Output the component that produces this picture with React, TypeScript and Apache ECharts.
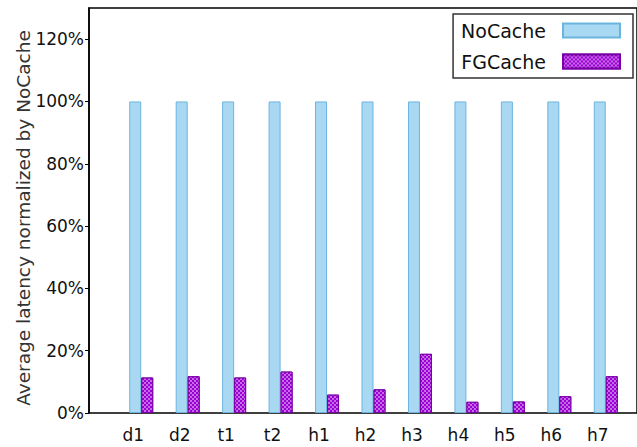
import React, { useEffect, useRef } from "react";
import * as echarts from "echarts";

const categories = ["d1", "d2", "t1", "t2", "h1", "h2", "h3", "h4", "h5", "h6", "h7"];
const noCacheValues = [100, 100, 100, 100, 100, 100, 100, 100, 100, 100, 100];
const fgCacheValues = [11.4, 11.8, 11.4, 13.3, 5.9, 7.6, 19.0, 3.6, 3.7, 5.4, 11.8];
const seriesNames = ["NoCache", "FGCache"];
const yAxisTitle = "Average latency normalized by NoCache";
const yMin = 0;
const yMax = 130;
const yInterval = 20;

const FONT = "DejaVu Sans";

export default function App() {
  const ref = useRef<HTMLDivElement>(null);

  useEffect(() => {
    document.body.style.margin = "0";
    if (!ref.current) return;
    const chart = echarts.init(ref.current, null, { renderer: "svg" });
    const option: any = {
      animation: false,
      backgroundColor: "#fff",
      grid: [
        {
          left: 89,
          top: 8,
          right: -10,
          bottom: 34,
          show: true,
          borderColor: "#000",
          borderWidth: 1.5,
          backgroundColor: "transparent",
        },
        { left: 118, top: 8, width: 511, bottom: 34 },
      ],
      xAxis: [
        { gridIndex: 0, type: "value", show: false, min: 0, max: 1 },
        {
          gridIndex: 1,
          type: "category",
          data: categories,
          axisLine: { show: false },
          axisTick: { show: false },
          axisLabel: {
            fontFamily: FONT,
            fontSize: 17,
            color: "#111",
            margin: 13,
            padding: [0, 16, 0, 0],
          },
        },
      ],
      yAxis: [
        {
          gridIndex: 0,
          type: "value",
          min: yMin,
          max: yMax,
          interval: yInterval,
          axisLine: { show: true, lineStyle: { color: "#000", width: 1.5 } },
          axisTick: { show: true, length: 4, lineStyle: { color: "#000", width: 1 } },
          axisLabel: {
            fontFamily: FONT,
            fontSize: 17,
            color: "#111",
            margin: 5,
            showMaxLabel: false,
            formatter: (v: number) => (v % yInterval === 0 ? v + "%" : ""),
          },
          splitLine: { show: false },
        },
        { gridIndex: 1, type: "value", min: yMin, max: yMax, show: false },
      ],
      legend: {
        data: seriesNames,
        orient: "vertical",
        right: 4,
        top: 14,
        align: "right",
        itemWidth: 57,
        itemHeight: 14,
        itemGap: 12,
        borderColor: "#333",
        borderWidth: 1.5,
        borderRadius: 0,
        padding: [7, 12, 7, 8],
        backgroundColor: "#fff",
        textStyle: { fontFamily: FONT, fontSize: 19, color: "#111", padding: [0, 12, 0, 0] },
        icon: "rect",
      },
      graphic: [
        {
          type: "text",
          x: 23,
          y: 218,
          rotation: Math.PI / 2,
          style: {
            text: yAxisTitle,
            fontFamily: FONT,
            fontSize: 18.5,
            fill: "#333",
            align: "center",
            verticalAlign: "middle",
          },
        },
      ],
      series: [
        {
          name: seriesNames[0],
          type: "bar",
          xAxisIndex: 1,
          yAxisIndex: 1,
          data: noCacheValues,
          barWidth: 12,
          barGap: "0%",
          itemStyle: { color: "#a8d8f2", borderColor: "#6cb4e0", borderWidth: 1 },
        },
        {
          name: seriesNames[1],
          type: "bar",
          xAxisIndex: 1,
          yAxisIndex: 1,
          data: fgCacheValues,
          barWidth: 12,
          barGap: "0%",
          itemStyle: {
            color: "#9c00d4",
            borderColor: "#7a00a8",
            borderWidth: 1,
            decal: {
              symbol: "rect",
              symbolSize: 0.8,
              color: "rgba(255,255,255,0.7)",
              dashArrayX: [[2, 2], [0, 2, 2, 0]],
              dashArrayY: [2, 0],
              rotation: 0,
            },
          },
        },
      ],
    };
    chart.setOption(option);
    return () => chart.dispose();
  }, []);

  return <div ref={ref} style={{ width: 637, height: 447 }} />;
}
